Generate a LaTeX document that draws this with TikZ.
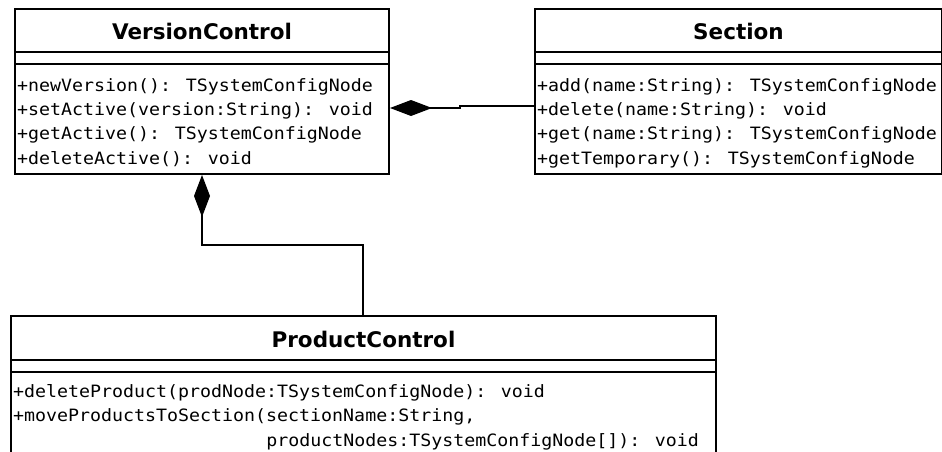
\documentclass[tikz,border=0pt]{standalone}
\usepackage{fontspec}
\setmainfont{DejaVu Sans}
\newfontfamily\umltitle{DejaVu Sans}
\newfontfamily\umlmono[FakeStretch=1.075]{DejaVu Sans Mono}
\usetikzlibrary{arrows.meta}
\begin{document}
\begin{tikzpicture}[x=1pt,y=-1pt,
  umlclass/.style={draw=black, line width=2pt, rectangle, inner sep=0pt, anchor=north west},
  classname/.style={font=\umltitle\bfseries\fontsize{21.5}{21.5}\selectfont, anchor=base, inner sep=0pt},
  op/.style={font=\umlmono\fontsize{17}{17}\selectfont, anchor=base west, inner sep=0pt},
  sepline/.style={draw=black, line width=2pt},
  compose/.style={draw=black, line width=2pt, -{Diamond[length=42pt,width=16pt]}}]
  % page area
  \fill[white] (0,0) rectangle (942,452);
  \clip (0,0) rectangle (942,452);

  % class boxes
  \node[umlclass, minimum width=374pt, minimum height=165pt] (vc) at (14,8) {};
  \node[umlclass, minimum width=407pt, minimum height=165pt] (sec) at (534,8) {};
  \node[umlclass, minimum width=705pt, minimum height=160pt] (pc) at (10,315) {};

  % compartment separators
  \draw[sepline] (vc.west |- 0,52) -- (vc.east |- 0,52);
  \draw[sepline] (vc.west |- 0,64.5) -- (vc.east |- 0,64.5);
  \draw[sepline] (sec.west |- 0,52) -- (sec.east |- 0,52);
  \draw[sepline] (sec.west |- 0,64) -- (sec.east |- 0,64);
  \draw[sepline] (pc.west |- 0,360) -- (pc.east |- 0,360);
  \draw[sepline] (pc.west |- 0,372) -- (pc.east |- 0,372);

  % class names
  \node[classname] (vcname) at (vc.north |- 0,40) {VersionControl};
  \node[classname] (secname) at (sec.north |- 0,40) {Section};
  \node[classname] (pcname) at (pc.north |- 0,347) {ProductControl};

  % operations
  \node[op] (vc1) at (17,91) {+newVersion(): TSystemConfigNode};
  \node[op] (vc2) at (17,115.4) {+setActive(version:String): void};
  \node[op] (vc3) at (17,139.8) {+getActive(): TSystemConfigNode};
  \node[op] (vc4) at (17,164.2) {+deleteActive(): void};

  \node[op] (sec1) at (537,91) {+add(name:String): TSystemConfigNode};
  \node[op] (sec2) at (537,115.4) {+delete(name:String): void};
  \node[op] (sec3) at (537,139.8) {+get(name:String): TSystemConfigNode};
  \node[op] (sec4) at (537,164.2) {+getTemporary(): TSystemConfigNode};

  \node[op] (pc1) at (13,397) {+deleteProduct(prodNode:TSystemConfigNode): void};
  \node[op] (pc2) at (13,421.5) {+moveProductsToSection(sectionName:String,};
  \node[op] (pc3) at (13,446) {\hphantom{+moveProductsToSection(}productNodes:TSystemConfigNode[]): void};

  % compositions
  \draw[compose] (sec.west |- 0,106) -- (460,106) -- (460,108) -- (vc.east |- 0,108);
  \draw[compose] (pc.north -| 363,0) |- (202,245) -- (vc.south -| 202,0);
\end{tikzpicture}
\end{document}
